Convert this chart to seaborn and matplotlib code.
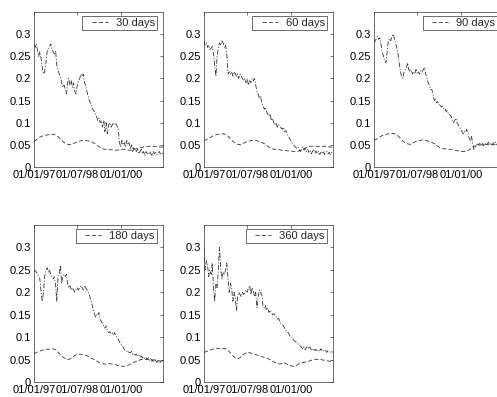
import matplotlib
matplotlib.use("Agg")
import matplotlib.pyplot as plt
import matplotlib.dates as mdates
from matplotlib.legend_handler import HandlerLine2D
import numpy as np
import pandas as pd
import seaborn as sns

# ---- data -------------------------------------------------------------
start, end = "1997-01-01", "2001-06-15"
vol_dates = pd.date_range(start, end, freq="SMS")          # twice a month
rate_dates = pd.date_range(start, end, periods=54)          # about monthly

maturities = ["30 days", "60 days", "90 days", "180 days", "360 days"]

vol_30 = [0.275, 0.27, 0.278, 0.262, 0.25, 0.26, 0.245, 0.225, 0.21, 0.215,
          0.235, 0.26, 0.268, 0.272, 0.278, 0.265, 0.26, 0.255, 0.262, 0.23,
          0.22, 0.21, 0.205, 0.19, 0.18, 0.185, 0.175, 0.165, 0.19, 0.2,
          0.185, 0.195, 0.18, 0.19, 0.17, 0.165, 0.185, 0.195, 0.2, 0.21,
          0.205, 0.21, 0.19, 0.185, 0.17, 0.16, 0.15, 0.145, 0.135, 0.13,
          0.125, 0.12, 0.115, 0.105, 0.11, 0.1, 0.105, 0.09, 0.105, 0.08,
          0.1, 0.075, 0.095, 0.1, 0.09, 0.095, 0.1, 0.095, 0.098, 0.092,
          0.085, 0.055, 0.045, 0.06, 0.05, 0.055, 0.045, 0.06, 0.05, 0.055,
          0.04, 0.05, 0.035, 0.045, 0.04, 0.035, 0.04, 0.03, 0.035, 0.04,
          0.03, 0.035, 0.025, 0.035, 0.03, 0.028, 0.035, 0.03, 0.025, 0.035,
          0.03, 0.033, 0.028, 0.03, 0.035, 0.03, 0.028, 0.032]
vol_60 = [0.285, 0.275, 0.28, 0.27, 0.275, 0.265, 0.268, 0.272, 0.255, 0.23,
          0.205, 0.25, 0.27, 0.28, 0.275, 0.285, 0.28, 0.27, 0.275, 0.255,
          0.21, 0.215, 0.21, 0.215, 0.205, 0.215, 0.21, 0.205, 0.21, 0.2,
          0.21, 0.205, 0.2, 0.195, 0.2, 0.19, 0.2, 0.185, 0.195, 0.19,
          0.2, 0.195, 0.2, 0.185, 0.17, 0.165, 0.155, 0.16, 0.145, 0.14,
          0.13, 0.135, 0.125, 0.12, 0.115, 0.12, 0.105, 0.11, 0.1, 0.095,
          0.1, 0.09, 0.095, 0.09, 0.088, 0.085, 0.09, 0.08, 0.082, 0.075,
          0.07, 0.065, 0.06, 0.055, 0.05, 0.048, 0.045, 0.042, 0.045, 0.04,
          0.035, 0.04, 0.045, 0.038, 0.042, 0.035, 0.04, 0.033, 0.038, 0.03,
          0.035, 0.04, 0.032, 0.036, 0.03, 0.035, 0.028, 0.033, 0.03, 0.036,
          0.028, 0.032, 0.035, 0.03, 0.033, 0.028, 0.035, 0.033]
vol_90 = [0.28, 0.285, 0.29, 0.295, 0.288, 0.292, 0.275, 0.26, 0.25, 0.24,
          0.235, 0.26, 0.285, 0.29, 0.285, 0.295, 0.3, 0.29, 0.28, 0.27,
          0.255, 0.235, 0.215, 0.205, 0.2, 0.215, 0.22, 0.225, 0.235, 0.22,
          0.215, 0.22, 0.21, 0.215, 0.21, 0.22, 0.21, 0.215, 0.21, 0.218,
          0.215, 0.22, 0.225, 0.21, 0.2, 0.19, 0.185, 0.175, 0.175, 0.165,
          0.15, 0.155, 0.145, 0.148, 0.14, 0.142, 0.135, 0.138, 0.13, 0.132,
          0.125, 0.128, 0.12, 0.118, 0.115, 0.105, 0.1, 0.105, 0.11, 0.1,
          0.095, 0.09, 0.085, 0.08, 0.075, 0.08, 0.078, 0.085, 0.075, 0.065,
          0.06, 0.07, 0.05, 0.04, 0.045, 0.05, 0.052, 0.05, 0.055, 0.05,
          0.053, 0.048, 0.055, 0.05, 0.052, 0.056, 0.05, 0.054, 0.05, 0.055,
          0.052, 0.056, 0.05, 0.054, 0.052, 0.055, 0.053, 0.055]
vol_180 = [0.25, 0.248, 0.245, 0.24, 0.235, 0.23, 0.2, 0.18, 0.2, 0.235,
           0.25, 0.255, 0.245, 0.25, 0.24, 0.235, 0.23, 0.235, 0.215, 0.18,
           0.235, 0.24, 0.26, 0.22, 0.235, 0.24, 0.235, 0.24, 0.22, 0.21,
           0.215, 0.205, 0.21, 0.205, 0.2, 0.205, 0.21, 0.205, 0.21, 0.215,
           0.21, 0.205, 0.215, 0.21, 0.205, 0.2, 0.195, 0.185, 0.175, 0.165,
           0.155, 0.145, 0.15, 0.148, 0.155, 0.14, 0.135, 0.13, 0.125, 0.12,
           0.125, 0.115, 0.11, 0.112, 0.108, 0.11, 0.105, 0.11, 0.102, 0.1,
           0.095, 0.09, 0.085, 0.08, 0.078, 0.072, 0.07, 0.068, 0.07, 0.066,
           0.065, 0.068, 0.062, 0.064, 0.06, 0.062, 0.058, 0.06, 0.055, 0.058,
           0.054, 0.056, 0.052, 0.055, 0.05, 0.054, 0.048, 0.052, 0.046, 0.05,
           0.045, 0.048, 0.044, 0.047, 0.045, 0.043, 0.046, 0.048]
vol_360 = [0.3, 0.25, 0.27, 0.26, 0.235, 0.25, 0.24, 0.265, 0.21, 0.18,
           0.22, 0.21, 0.25, 0.3, 0.25, 0.23, 0.245, 0.24, 0.25, 0.265,
           0.23, 0.2, 0.22, 0.21, 0.18, 0.2, 0.185, 0.16, 0.19, 0.2,
           0.195, 0.19, 0.2, 0.195, 0.2, 0.205, 0.2, 0.21, 0.215, 0.195,
           0.21, 0.205, 0.19, 0.2, 0.165, 0.19, 0.205, 0.2, 0.195, 0.17,
           0.165, 0.17, 0.16, 0.165, 0.155, 0.16, 0.155, 0.15, 0.152, 0.148,
           0.145, 0.14, 0.142, 0.135, 0.13, 0.128, 0.125, 0.12, 0.115, 0.112,
           0.11, 0.105, 0.1, 0.1, 0.095, 0.092, 0.09, 0.088, 0.085, 0.082,
           0.08, 0.078, 0.073, 0.078, 0.072, 0.076, 0.08, 0.074, 0.078, 0.072,
           0.07, 0.075, 0.07, 0.073, 0.068, 0.072, 0.07, 0.074, 0.07, 0.068,
           0.072, 0.07, 0.066, 0.07, 0.068, 0.066, 0.068, 0.066]

rate_30 = [0.058, 0.062, 0.066, 0.069, 0.071, 0.072, 0.073, 0.073, 0.074, 0.072,
           0.068, 0.062, 0.057, 0.053, 0.051, 0.05, 0.052, 0.055, 0.057, 0.059,
           0.06, 0.06, 0.059, 0.058, 0.056, 0.053, 0.049, 0.045, 0.042, 0.04,
           0.04, 0.039, 0.039, 0.038, 0.038, 0.039, 0.04, 0.04, 0.039, 0.038,
           0.038, 0.039, 0.041, 0.043, 0.044, 0.045, 0.046, 0.046, 0.047, 0.047,
           0.046, 0.046, 0.045, 0.045]
rate_60 = [0.059, 0.062, 0.065, 0.068, 0.071, 0.073, 0.074, 0.074, 0.075, 0.073,
           0.069, 0.063, 0.057, 0.053, 0.051, 0.05, 0.053, 0.056, 0.058, 0.059,
           0.06, 0.06, 0.059, 0.057, 0.055, 0.052, 0.048, 0.044, 0.041, 0.04,
           0.04, 0.039, 0.038, 0.037, 0.037, 0.036, 0.036, 0.035, 0.035, 0.036,
           0.038, 0.041, 0.044, 0.046, 0.047, 0.047, 0.047, 0.046, 0.046, 0.047,
           0.046, 0.046, 0.045, 0.045]
rate_90 = [0.06, 0.063, 0.066, 0.07, 0.072, 0.074, 0.075, 0.075, 0.076, 0.074,
           0.07, 0.064, 0.058, 0.054, 0.052, 0.051, 0.054, 0.057, 0.059, 0.06,
           0.061, 0.06, 0.059, 0.057, 0.055, 0.052, 0.048, 0.044, 0.042, 0.041,
           0.041, 0.04, 0.039, 0.038, 0.037, 0.036, 0.035, 0.035, 0.036, 0.038,
           0.042, 0.046, 0.048, 0.049, 0.05, 0.05, 0.051, 0.05, 0.05, 0.051,
           0.05, 0.05, 0.05, 0.05]
rate_180 = [0.063, 0.066, 0.068, 0.07, 0.072, 0.073, 0.073, 0.074, 0.074, 0.072,
            0.066, 0.06, 0.055, 0.052, 0.05, 0.052, 0.056, 0.06, 0.062, 0.062,
            0.061, 0.06, 0.058, 0.055, 0.052, 0.05, 0.046, 0.043, 0.041, 0.04,
            0.04, 0.041, 0.04, 0.039, 0.038, 0.036, 0.035, 0.035, 0.036, 0.038,
            0.041, 0.044, 0.046, 0.048, 0.05, 0.051, 0.05, 0.051, 0.05, 0.049,
            0.05, 0.048, 0.046, 0.045]
rate_360 = [0.066, 0.068, 0.07, 0.072, 0.074, 0.075, 0.075, 0.074, 0.075, 0.074,
            0.07, 0.064, 0.058, 0.053, 0.052, 0.055, 0.06, 0.064, 0.066, 0.065,
            0.063, 0.061, 0.06, 0.058, 0.056, 0.055, 0.053, 0.05, 0.047, 0.044,
            0.042, 0.04, 0.041, 0.043, 0.04, 0.038, 0.036, 0.035, 0.037, 0.04,
            0.042, 0.044, 0.045, 0.046, 0.048, 0.05, 0.051, 0.05, 0.05, 0.049,
            0.048, 0.047, 0.046, 0.045]

vols = [vol_30, vol_60, vol_90, vol_180, vol_360]
rates = [rate_30, rate_60, rate_90, rate_180, rate_360]

x_ticks = ["1997-01-01", "1998-07-01", "2000-01-01"]
y_ticks = [0, 0.05, 0.1, 0.15, 0.2, 0.25, 0.3]

# ---- style ------------------------------------------------------------
sns.set_style("white")
plt.rcParams.update({
    "font.family": ["Liberation Sans", "DejaVu Sans"],
    "font.size": 8,
    "axes.edgecolor": "0.2",
    "axes.linewidth": 0.5,
    "xtick.direction": "in", "ytick.direction": "in",
    "xtick.top": True, "ytick.right": True,
    "xtick.major.size": 2.5, "ytick.major.size": 2.5,
    "xtick.major.width": 0.5, "ytick.major.width": 0.5,
    "xtick.color": "0.2", "ytick.color": "0.2",
    "xtick.labelcolor": "black", "ytick.labelcolor": "black",
    "xtick.labelsize": 8, "ytick.labelsize": 8,
    "xtick.major.pad": 2, "ytick.major.pad": 2,
    "lines.scale_dashes": False,
})

W, H = 497, 397
fig = plt.figure(figsize=(W / 100, H / 100), dpi=100)

# panel rectangles in pixels: left, top, width, height
boxes = [(34, 12, 129, 155), (204, 12, 129, 155), (374, 12, 129, 155),
         (34, 225, 129, 157), (204, 225, 129, 157)]

line_col = "0.2"
for name, vol, rate, (l, t, w, h) in zip(maturities, vols, rates, boxes):
    ax = fig.add_axes([l / W, 1 - (t + h) / H, w / W, h / H])
    sns.lineplot(x=vol_dates, y=vol, ax=ax, color=line_col, lw=0.6,
                 linestyle=(0, (3.5, 1.2, 0.8, 1.2)), errorbar=None)
    sns.lineplot(x=rate_dates, y=rate, ax=ax, color=line_col, lw=0.6,
                 linestyle=(0, (3.0, 1.6)), errorbar=None)
    rate_line = ax.get_lines()[-1]

    ax.set_xlim(pd.Timestamp(start), pd.Timestamp("2001-06-17"))
    ax.set_ylim(0, 0.35)
    ax.set_xticks([pd.Timestamp(d) for d in x_ticks])
    ax.xaxis.set_major_formatter(mdates.DateFormatter("%d/%m/%y"))
    ax.set_yticks(y_ticks)
    ax.set_yticklabels([f"{v:g}" for v in y_ticks])
    ax.set_xlabel("")
    ax.set_ylabel("")
    for s in ax.spines.values():
        s.set_visible(True)

    leg = ax.legend([rate_line], [name], loc="upper right",
                    bbox_to_anchor=(1 - 6 / w, 1 - 4 / h), borderaxespad=0,
                    fontsize=8, handlelength=2.07, handletextpad=0.72,
                    borderpad=0.2, fancybox=False, framealpha=1,
                    edgecolor="0.2",
                    handler_map={rate_line: HandlerLine2D(xpad=0.63)})
    leg.get_frame().set_linewidth(0.5)

fig.savefig("out.png", dpi=100)
